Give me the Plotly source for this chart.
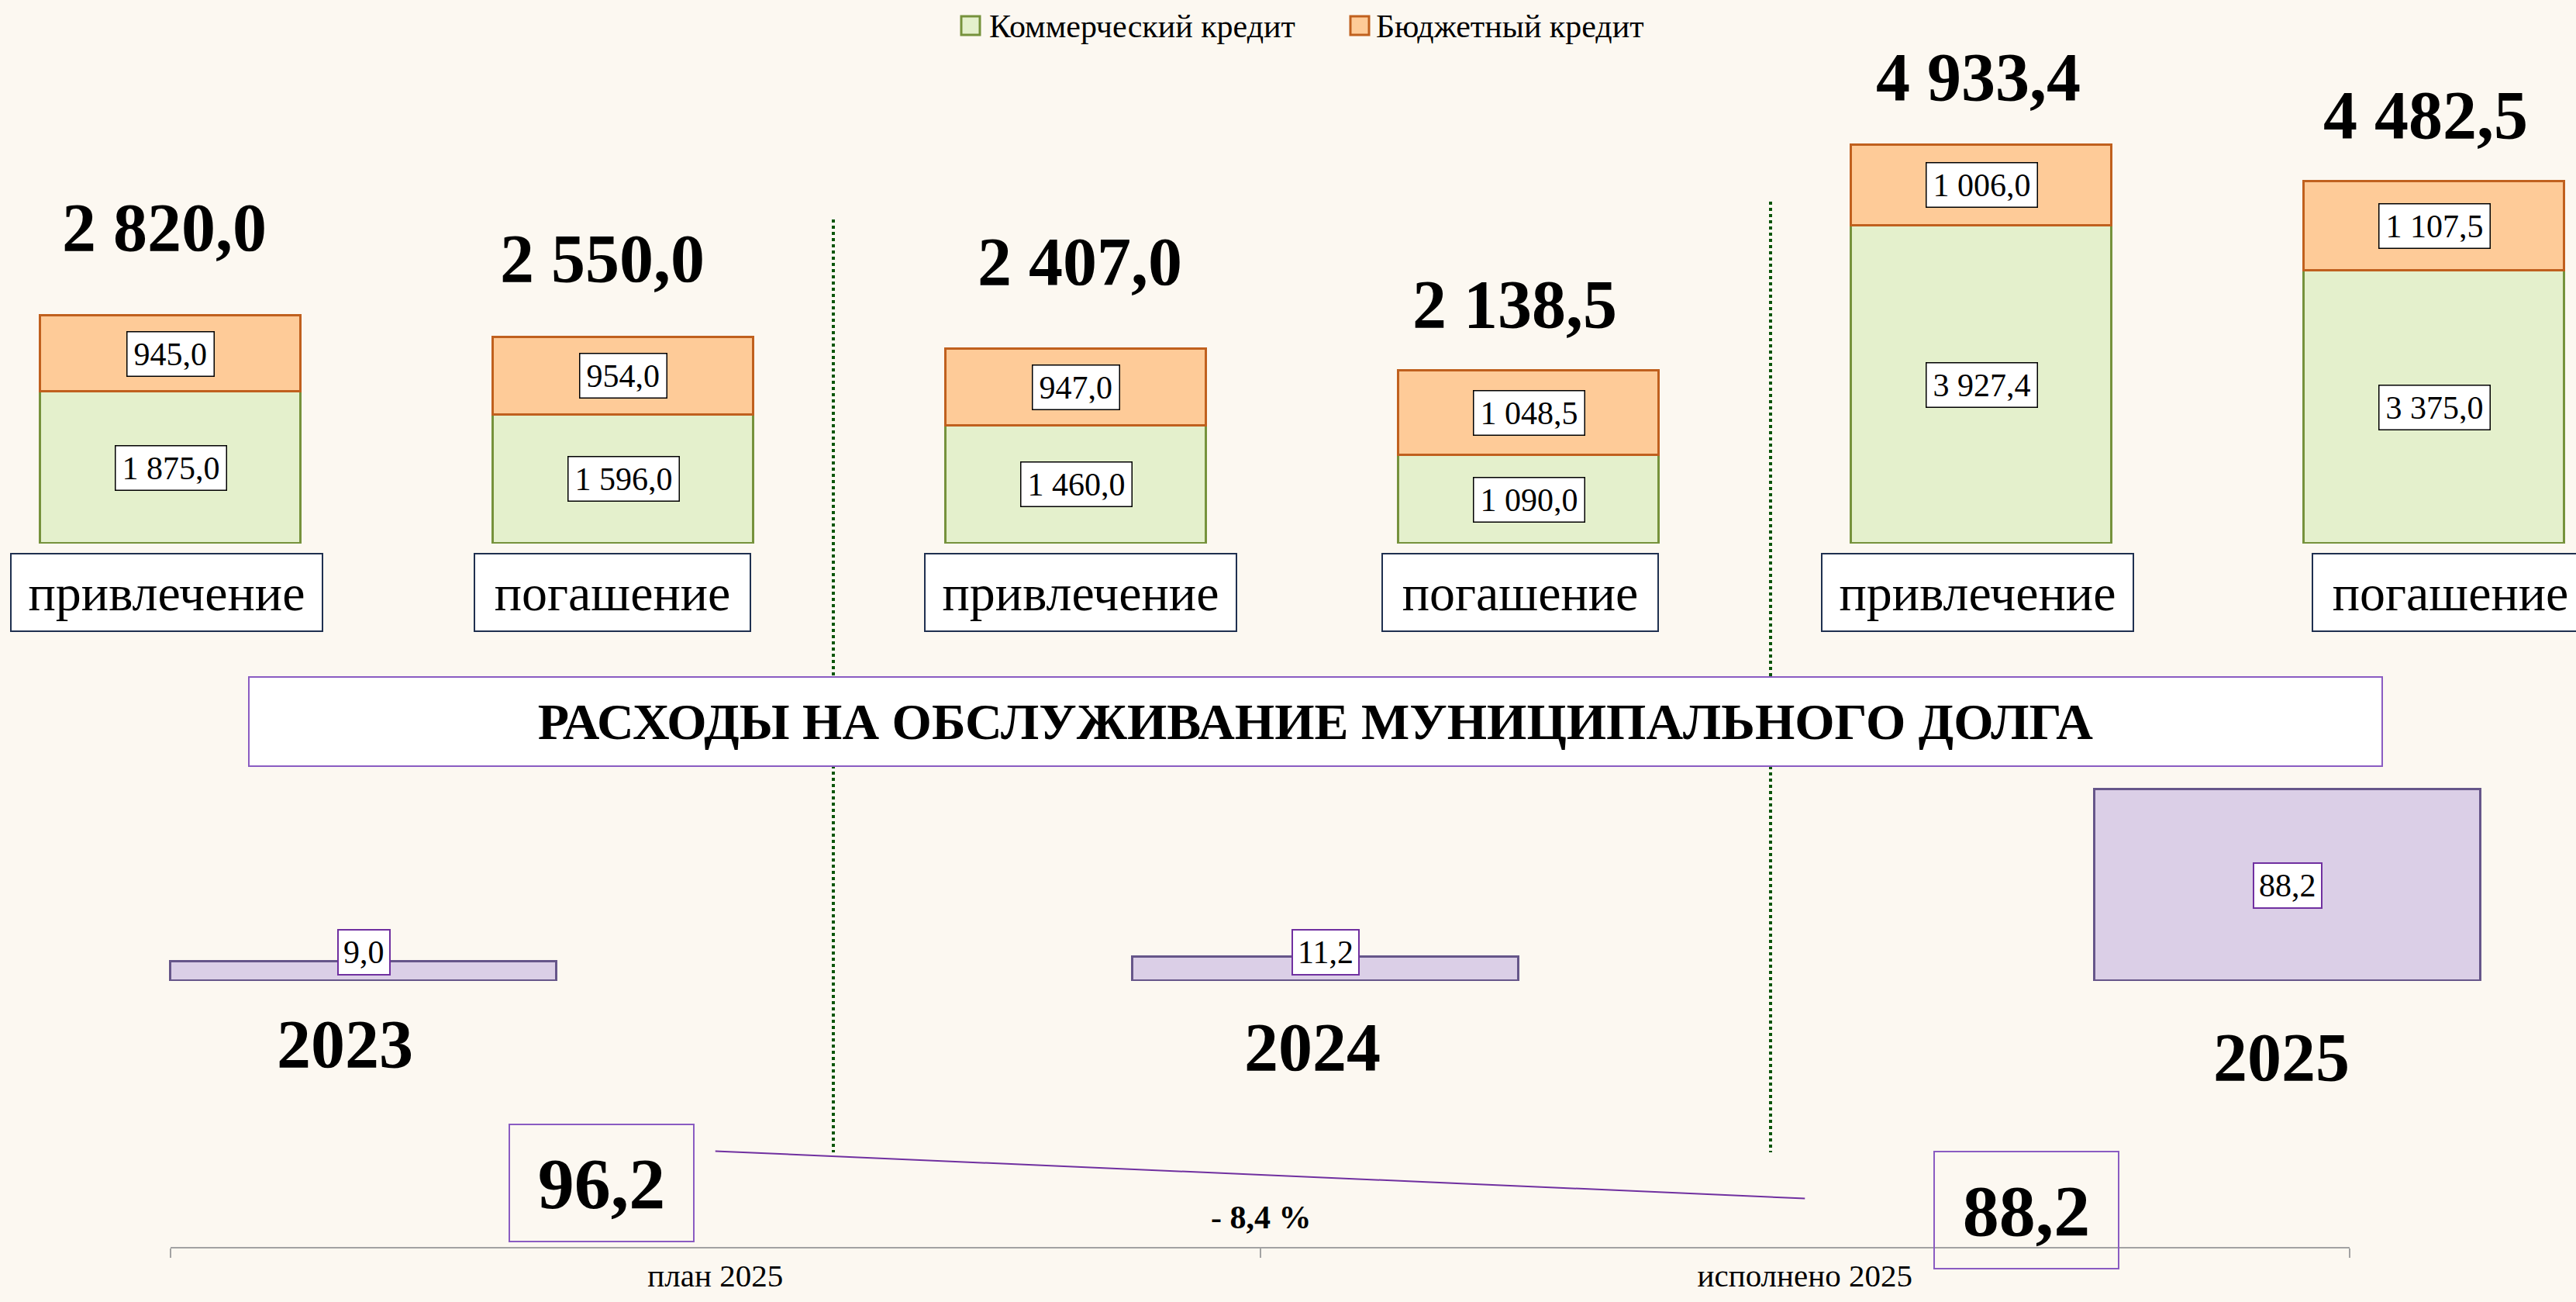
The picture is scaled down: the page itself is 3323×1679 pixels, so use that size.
import plotly.graph_objects as go

# ---- data -------------------------------------------------------------
SECTIONS = ["привлечение", "погашение", "привлечение", "погашение", "привлечение", "погашение"]
SECTION_YEARS = ["2023", "2023", "2024", "2024", "2025", "2025"]
COMMERCIAL = [1875.0, 1596.0, 1460.0, 1090.0, 3927.4, 3375.0]
BUDGET = [945.0, 954.0, 947.0, 1048.5, 1006.0, 1107.5]
SERIES_NAMES = ["Коммерческий кредит", "Бюджетный кредит"]

SERVICE_YEARS = ["2023", "2024", "2025"]
SERVICE_COST = [9.0, 11.2, 88.2]

PLAN_FACT_LABELS = ["план 2025", "исполнено 2025"]
PLAN_FACT = [96.2, 88.2]
CHANGE_LABEL = "- 8,4 %"
TITLE = "РАСХОДЫ НА ОБСЛУЖИВАНИЕ МУНИЦИПАЛЬНОГО ДОЛГА"

# ---- styling ----------------------------------------------------------
W, H = 3323, 1679
FONT = "Liberation Serif"
BG = "#FCF8F1"
GREEN_FILL, GREEN_LINE = "#E4F0CC", "#76923C"
ORANGE_FILL, ORANGE_LINE = "#FECB98", "#C0601E"
PURPLE_FILL, PURPLE_LINE = "#DBCFE7", "#66568A"
PURPLE_BOX = "#8A5CC2"
LINE_PURPLE = "#7030A0"
AXIS_GREY = "#A3A3A3"
DIVIDER_GREEN = "#0A550A"

# label offsets (px) for the totals and the section captions
TOTAL_XSHIFT = [-8, -27, 5, -18, -4, -11]
TOTAL_YSHIFT = [113, 102, 112, 85, 87, 85]
SECTION_XSHIFT = [-5, -14, 6, -11, -5, 21]
SECTION_BOX_W = {"привлечение": 400, "погашение": 354}
YEAR_XSHIFT = [-24, -17, -8]
YEAR_Y_PX = [1346, 1350, 1363]


def fx(px):
    return px / W


def fy(px):
    return 1 - px / H


def fmt(v):
    return f"{v:,.1f}".replace(",", " ").replace(".", ",")


x_top = list(range(len(SECTIONS)))
totals = [c + b for c, b in zip(COMMERCIAL, BUDGET)]
x_cost = list(range(len(SERVICE_YEARS)))

fig = go.Figure()

# stacked borrowing / repayment bars
fig.add_trace(go.Bar(
    x=x_top, y=COMMERCIAL, name=SERIES_NAMES[0], width=0.574,
    marker=dict(color=GREEN_FILL, line=dict(color=GREEN_LINE, width=3)),
    xaxis="x", yaxis="y", showlegend=False, hoverinfo="skip",
))
fig.add_trace(go.Bar(
    x=x_top, y=BUDGET, name=SERIES_NAMES[1], width=0.574,
    marker=dict(color=ORANGE_FILL, line=dict(color=ORANGE_LINE, width=3)),
    xaxis="x", yaxis="y", showlegend=False, hoverinfo="skip",
))

# debt service costs per year
fig.add_trace(go.Bar(
    x=x_cost, y=SERVICE_COST, width=0.401,
    marker=dict(color=PURPLE_FILL, line=dict(color=PURPLE_LINE, width=3)),
    xaxis="x2", yaxis="y2", showlegend=False, hoverinfo="skip",
))

# plan vs actual 2025
fig.add_trace(go.Scatter(
    x=PLAN_FACT_LABELS, y=PLAN_FACT, mode="lines",
    line=dict(color=LINE_PURPLE, width=2),
    xaxis="x3", yaxis="y3", showlegend=False, hoverinfo="skip",
))

annotations = []
shapes = []

# segment value labels
for i, (c, b) in enumerate(zip(COMMERCIAL, BUDGET)):
    for val, mid in ((c, c / 2), (b, c + b / 2)):
        annotations.append(dict(
            x=i, y=mid, xref="x", yref="y", text=fmt(val), showarrow=False,
            font=dict(family=FONT, size=42, color="#000"),
            bgcolor="#FFFFFF", bordercolor="#000000", borderwidth=1.5,
            borderpad=8, height=40, xanchor="center", yanchor="middle",
        ))

# totals above the bars
for i, t in enumerate(totals):
    annotations.append(dict(
        x=i, y=t, xref="x", yref="y", text=f"<b>{fmt(t)}</b>", showarrow=False,
        font=dict(family=FONT, size=88, color="#000"),
        xshift=TOTAL_XSHIFT[i], yshift=TOTAL_YSHIFT[i],
        xanchor="center", yanchor="middle",
    ))

# section captions under the bars
for i, s in enumerate(SECTIONS):
    annotations.append(dict(
        x=i, y=fy(764), xref="x", yref="paper", text=s, showarrow=False,
        font=dict(family=FONT, size=66, color="#000"),
        bgcolor="#FFFFFF", bordercolor="#1F3050", borderwidth=2,
        borderpad=0, width=SECTION_BOX_W[s], height=98,
        xshift=SECTION_XSHIFT[i], xanchor="center", yanchor="middle",
    ))

# title box of the lower block
annotations.append(dict(
    x=fx(1697), y=fy(930.5), xref="paper", yref="paper",
    text=f"<b>{TITLE}</b>", showarrow=False,
    font=dict(family=FONT, size=66, color="#000"),
    bgcolor="#FFFFFF", bordercolor=PURPLE_BOX, borderwidth=2,
    borderpad=0, width=2750, height=113,
    xanchor="center", yanchor="middle",
))

# cost value labels
for i, v in enumerate(SERVICE_COST):
    annotations.append(dict(
        x=i, y=max(v / 2, 13.2), xref="x2", yref="y2", text=fmt(v), showarrow=False,
        font=dict(family=FONT, size=42, color="#000"),
        bgcolor="#FFFFFF", bordercolor=LINE_PURPLE, borderwidth=2,
        borderpad=6, height=44, xanchor="center", yanchor="middle",
    ))

# year captions
for i, yr in enumerate(SERVICE_YEARS):
    annotations.append(dict(
        x=i, y=fy(YEAR_Y_PX[i]), xref="x2", yref="paper", text=f"<b>{yr}</b>",
        showarrow=False, font=dict(family=FONT, size=88, color="#000"),
        xshift=YEAR_XSHIFT[i], xanchor="center", yanchor="middle",
    ))

# plan / actual value boxes
for lab, val, xs, ys in ((PLAN_FACT_LABELS[0], PLAN_FACT[0], -147, -41),
                         (PLAN_FACT_LABELS[1], PLAN_FACT[1], 286, -15)):
    annotations.append(dict(
        x=lab, y=val, xref="x3", yref="y3", text=f"<b>{fmt(val)}</b>",
        showarrow=False, font=dict(family=FONT, size=94, color="#000"),
        bordercolor=PURPLE_BOX, borderwidth=2, borderpad=0,
        width=236, height=149, xshift=xs, yshift=ys,
        xanchor="center", yanchor="middle",
    ))

annotations.append(dict(
    x=fx(1627), y=fy(1570), xref="paper", yref="paper",
    text=f"<b>{CHANGE_LABEL}</b>", showarrow=False,
    font=dict(family=FONT, size=42, color="#000"),
    xanchor="center", yanchor="middle",
))

# legend
for (sx, tx), name, fill, line in (((1240, 1274), SERIES_NAMES[0], GREEN_FILL, GREEN_LINE),
                                   ((1742, 1773), SERIES_NAMES[1], ORANGE_FILL, ORANGE_LINE)):
    shapes.append(dict(
        type="rect", xref="paper", yref="paper",
        x0=fx(sx), x1=fx(sx + 24), y0=fy(45), y1=fy(21),
        fillcolor=fill, line=dict(color=line, width=3),
    ))
    annotations.append(dict(
        x=fx(tx), y=fy(34), xref="paper", yref="paper", text=name,
        showarrow=False, font=dict(family=FONT, size=42, color="#000"),
        xanchor="left", yanchor="middle",
    ))

# dotted year dividers
for dx, top in ((1075, 283), (2284, 260)):
    shapes.append(dict(
        type="line", xref="paper", yref="paper", layer="below",
        x0=fx(dx), x1=fx(dx), y0=fy(top), y1=fy(1486),
        line=dict(color=DIVIDER_GREEN, width=4, dash="dot"),
    ))

hidden = dict(visible=False, fixedrange=True)

fig.update_layout(
    width=W, height=H,
    margin=dict(l=0, r=0, t=0, b=0),
    paper_bgcolor=BG, plot_bgcolor="rgba(0,0,0,0)",
    barmode="stack", bargap=0,
    font=dict(family=FONT, color="#000"),
    xaxis=dict(domain=[0, 1], range=[-220 / 584, (W - 220) / 584], anchor="y", **hidden),
    yaxis=dict(domain=[fy(701), 1], range=[0, 701 / 0.10429], anchor="x", **hidden),
    xaxis2=dict(domain=[0, 1], range=[-469 / 1241, (W - 469) / 1241], anchor="y2", **hidden),
    yaxis2=dict(domain=[fy(1265), fy(1000)], range=[0, 265 / 2.80], anchor="x2", **hidden),
    xaxis3=dict(
        domain=[fx(220), fx(3031)], anchor="y3", type="category",
        range=[-0.5, 1.5], tickson="boundaries", ticks="outside", ticklen=12,
        tickwidth=2, tickcolor=AXIS_GREY, showline=True, linecolor=AXIS_GREY,
        linewidth=2, showgrid=False, zeroline=False, fixedrange=True,
        tickfont=dict(family=FONT, size=41, color="#000"),
    ),
    yaxis3=dict(domain=[fy(1608), fy(1400)], range=[80, 80 + 208 / 7.625], anchor="x3", **hidden),
    annotations=annotations,
    shapes=shapes,
)

fig.write_html("out.html")
